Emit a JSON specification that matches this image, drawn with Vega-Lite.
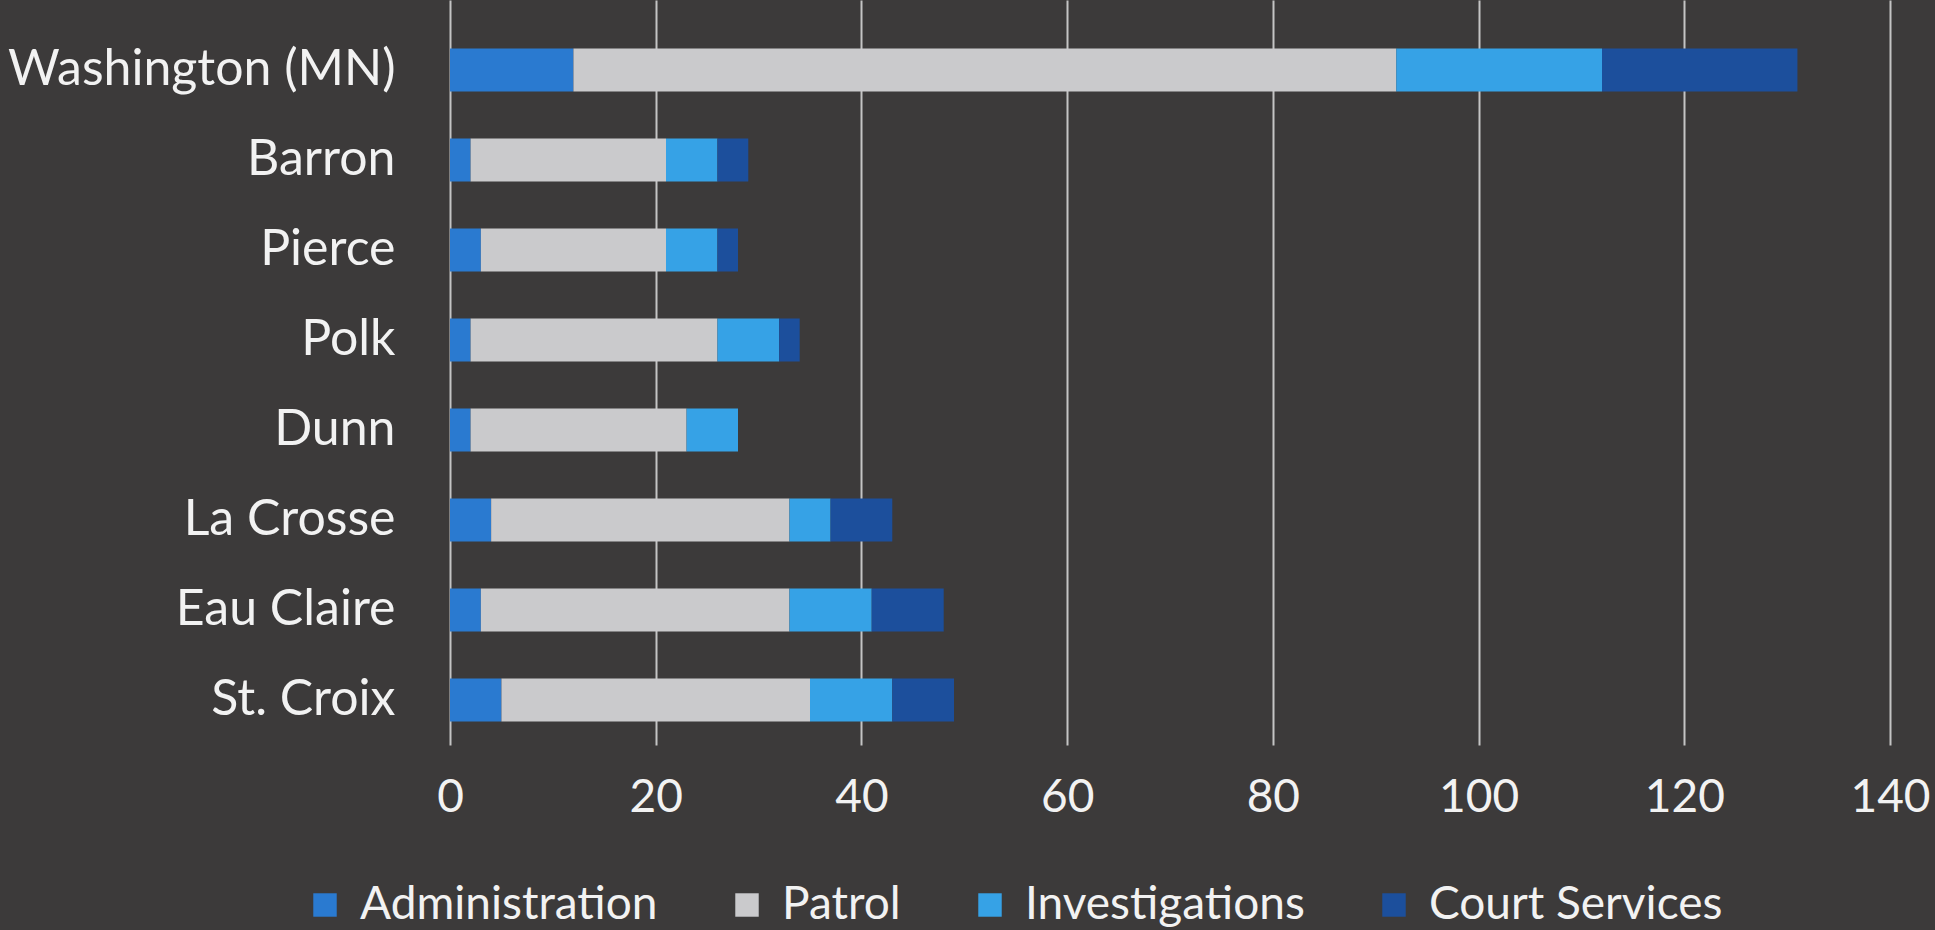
{
  "$schema": "https://vega.github.io/schema/vega-lite/v6.json",
  "autosize": "none",
  "width": 1440,
  "height": 745,
  "padding": {"left": 450, "top": 0, "right": 45, "bottom": 185},
  "background": "#3c3a3a",
  "data": {
    "values": [
      {"county": "Washington (MN)", "division": "Administration", "officers": 12},
      {"county": "Washington (MN)", "division": "Patrol", "officers": 80},
      {"county": "Washington (MN)", "division": "Investigations", "officers": 20},
      {"county": "Washington (MN)", "division": "Court Services", "officers": 19},
      {"county": "Barron", "division": "Administration", "officers": 2},
      {"county": "Barron", "division": "Patrol", "officers": 19},
      {"county": "Barron", "division": "Investigations", "officers": 5},
      {"county": "Barron", "division": "Court Services", "officers": 3},
      {"county": "Pierce", "division": "Administration", "officers": 3},
      {"county": "Pierce", "division": "Patrol", "officers": 18},
      {"county": "Pierce", "division": "Investigations", "officers": 5},
      {"county": "Pierce", "division": "Court Services", "officers": 2},
      {"county": "Polk", "division": "Administration", "officers": 2},
      {"county": "Polk", "division": "Patrol", "officers": 24},
      {"county": "Polk", "division": "Investigations", "officers": 6},
      {"county": "Polk", "division": "Court Services", "officers": 2},
      {"county": "Dunn", "division": "Administration", "officers": 2},
      {"county": "Dunn", "division": "Patrol", "officers": 21},
      {"county": "Dunn", "division": "Investigations", "officers": 5},
      {"county": "Dunn", "division": "Court Services", "officers": 0},
      {"county": "La Crosse", "division": "Administration", "officers": 4},
      {"county": "La Crosse", "division": "Patrol", "officers": 29},
      {"county": "La Crosse", "division": "Investigations", "officers": 4},
      {"county": "La Crosse", "division": "Court Services", "officers": 6},
      {"county": "Eau Claire", "division": "Administration", "officers": 3},
      {"county": "Eau Claire", "division": "Patrol", "officers": 30},
      {"county": "Eau Claire", "division": "Investigations", "officers": 8},
      {"county": "Eau Claire", "division": "Court Services", "officers": 7},
      {"county": "St. Croix", "division": "Administration", "officers": 5},
      {"county": "St. Croix", "division": "Patrol", "officers": 30},
      {"county": "St. Croix", "division": "Investigations", "officers": 8},
      {"county": "St. Croix", "division": "Court Services", "officers": 6}
    ]
  },
  "transform": [
    {"calculate": "indexof(['Administration','Patrol','Investigations','Court Services'], datum.division)", "as": "stackOrder"}
  ],
  "mark": {"type": "bar", "size": 43},
  "encoding": {
    "y": {
      "field": "county",
      "type": "nominal",
      "sort": ["Washington (MN)", "Barron", "Pierce", "Polk", "Dunn", "La Crosse", "Eau Claire", "St. Croix"],
      "scale": {"paddingInner": 0, "paddingOuter": 0.139, "align": 1},
      "axis": {
        "title": null,
        "domain": false,
        "ticks": false,
        "labelFont": "Lato",
        "labelFontSize": 50,
        "labelColor": "#f2f2f2",
        "labelPadding": 55,
        "labelLimit": 0,
        "grid": false
      }
    },
    "x": {
      "field": "officers",
      "type": "quantitative",
      "aggregate": "sum",
      "stack": "zero",
      "scale": {"domain": [0, 140], "nice": false},
      "axis": {
        "title": null,
        "values": [0, 20, 40, 60, 80, 100, 120, 140],
        "domain": false,
        "ticks": false,
        "grid": true,
        "gridColor": "#c4c4c4",
        "gridWidth": 2,
        "labelFont": "Lato",
        "labelFontSize": 46,
        "labelColor": "#f2f2f2",
        "labelPadding": 30,
        "labelFlush": false
      }
    },
    "color": {
      "field": "division",
      "type": "nominal",
      "scale": {
        "domain": ["Administration", "Patrol", "Investigations", "Court Services"],
        "range": ["#2a7ad0", "#cacacc", "#36a2e6", "#1c4f9c"]
      },
      "legend": {
        "title": null,
        "orient": "none",
        "direction": "horizontal",
        "columns": 4,
        "legendX": -148,
        "legendY": 882,
        "symbolType": "square",
        "symbolSize": 550,
        "symbolStrokeWidth": 0,
        "labelFont": "Lato",
        "labelFontSize": 46,
        "labelColor": "#f2f2f2",
        "labelOffset": 12,
        "columnPadding": 66,
        "labelLimit": 0
      }
    },
    "order": {"field": "stackOrder", "type": "quantitative"}
  },
  "config": {
    "view": {"stroke": null},
    "axis": {"gridOpacity": 1}
  }
}
